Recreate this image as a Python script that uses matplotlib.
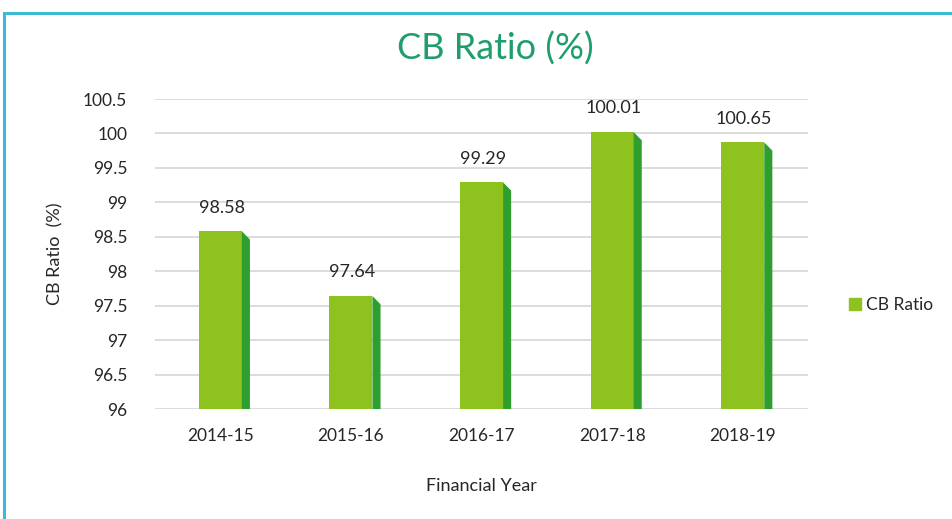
import matplotlib
matplotlib.use("Agg")
import matplotlib.pyplot as plt
from matplotlib.patches import Polygon, Rectangle
from matplotlib.lines import Line2D

years = ["2014-15", "2015-16", "2016-17", "2017-18", "2018-19"]
bar_heights = [98.58, 97.64, 99.29, 100.02, 99.87]
bar_labels = ["98.58", "97.64", "99.29", "100.01", "100.65"]
y_ticks = [96, 96.5, 97, 97.5, 98, 98.5, 99, 99.5, 100, 100.5]
y_tick_labels = ["96", "96.5", "97", "97.5", "98", "98.5", "99", "99.5", "100", "100.5"]

FRONT = "#8dc21f"
SIDE = "#2e9e2e"
TEXT = "#262626"
plt.rcParams['font.family'] = ['Lato', 'DejaVu Sans']

fig = plt.figure(figsize=(9.53, 5.19), dpi=100)
fig.patches.append(Rectangle((4/953, -0.1), 1.1, 1 - 13/519 + 0.1, transform=fig.transFigure,
                             fill=False, edgecolor="#3fb8d8", linewidth=2.2))
ax = fig.add_axes([155/953, 1 - 409/519, 653/953, 310/519])

base = 96.0
fw = 0.33
sw = 0.062
drop = 0.12
x = list(range(len(years)))
ax.bar(x, [h - base for h in bar_heights], bottom=base, width=fw, color=FRONT, zorder=3)
for xi, h, lab in zip(x, bar_heights, bar_labels):
    xr = xi + fw / 2
    ax.add_patch(Polygon([(xr, base), (xr, h), (xr + sw, h - drop), (xr + sw, base)],
                         closed=True, facecolor=SIDE, edgecolor="none", zorder=3))
    ax.annotate(lab, (xi, h), xytext=(1, 17), textcoords="offset points",
                ha="center", va="center", fontsize=13, color=TEXT)

ax.set_xlim(-0.5, 4.5)
ax.set_ylim(96, 100.5)
ax.set_yticks(y_ticks)
ax.set_yticklabels(y_tick_labels)
ax.set_xticks(x)
ax.set_xticklabels(years)
ax.tick_params(axis="both", length=0, labelsize=12.5, colors=TEXT)
ax.tick_params(axis="y", pad=20)
ax.tick_params(axis="x", pad=14)
ax.yaxis.grid(True, color="#d9d9d9", linewidth=1.3, zorder=0)
ax.set_axisbelow(True)
for s in ax.spines.values():
    s.set_visible(False)

ax.set_ylabel("CB Ratio  (%)", fontsize=13, color=TEXT, labelpad=14)
ax.set_xlabel("Financial Year", fontsize=13, color=TEXT, labelpad=24)
fig.text(495/953, 1 - 49/519, "CB Ratio (%)", ha="center", va="center",
         fontsize=26, color="#1e9e6a")

handle = Line2D([], [], marker="s", linestyle="none", markersize=9,
                markerfacecolor=FRONT, markeredgecolor=FRONT)
fig.legend([handle], ["CB Ratio"], loc="center left", bbox_to_anchor=(838/953, 1 - 305/519),
           frameon=False, fontsize=12.5, handletextpad=0.1, handlelength=1.0,
           borderpad=0, labelcolor=TEXT)

fig.savefig("out.png", dpi=100)
